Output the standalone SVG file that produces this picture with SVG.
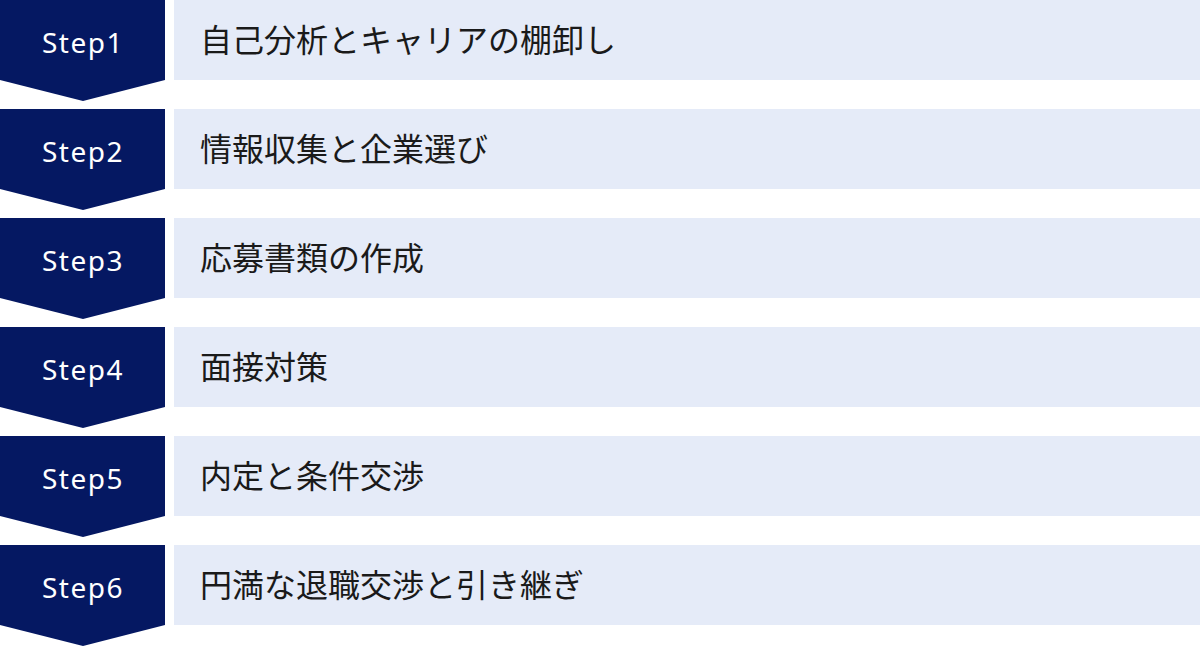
<svg xmlns="http://www.w3.org/2000/svg" width="1200" height="647" viewBox="0 0 1200 647">
<style>
.chev{fill:#051862}
.box{fill:#e5ebf8}
.step{font-family:"Noto Sans","DejaVu Sans",sans-serif;font-size:28px;fill:#ffffff;text-anchor:middle;letter-spacing:1.5px}
.lbl{font-family:"Noto Sans CJK JP","Noto Sans",sans-serif;font-size:32px;fill:#1a1a1a}
</style>
<defs>
<path id="chevron" d="M0 0 H165 V80 L83 101 L0 80 Z"/>
</defs>
<rect width="1200" height="647" fill="#ffffff"/>
<g id="connectors"></g>
<g id="step1">
<use href="#chevron" class="chev" x="0" y="0"/>
<rect class="box" x="174" y="0" width="1026" height="80"/>
<text class="step" x="83" y="53">Step1</text>
<text class="lbl" x="200" y="52">自己分析とキャリアの棚卸し</text>
</g>
<g id="step2">
<use href="#chevron" class="chev" x="0" y="109"/>
<rect class="box" x="174" y="109" width="1026" height="80"/>
<text class="step" x="83" y="162">Step2</text>
<text class="lbl" x="200" y="161">情報収集と企業選び</text>
</g>
<g id="step3">
<use href="#chevron" class="chev" x="0" y="218"/>
<rect class="box" x="174" y="218" width="1026" height="80"/>
<text class="step" x="83" y="271">Step3</text>
<text class="lbl" x="200" y="270">応募書類の作成</text>
</g>
<g id="step4">
<use href="#chevron" class="chev" x="0" y="327"/>
<rect class="box" x="174" y="327" width="1026" height="80"/>
<text class="step" x="83" y="380">Step4</text>
<text class="lbl" x="200" y="379">面接対策</text>
</g>
<g id="step5">
<use href="#chevron" class="chev" x="0" y="436"/>
<rect class="box" x="174" y="436" width="1026" height="80"/>
<text class="step" x="83" y="489">Step5</text>
<text class="lbl" x="200" y="488">内定と条件交渉</text>
</g>
<g id="step6">
<use href="#chevron" class="chev" x="0" y="545"/>
<rect class="box" x="174" y="545" width="1026" height="80"/>
<text class="step" x="83" y="598">Step6</text>
<text class="lbl" x="200" y="597">円満な退職交渉と引き継ぎ</text>
</g>
</svg>
